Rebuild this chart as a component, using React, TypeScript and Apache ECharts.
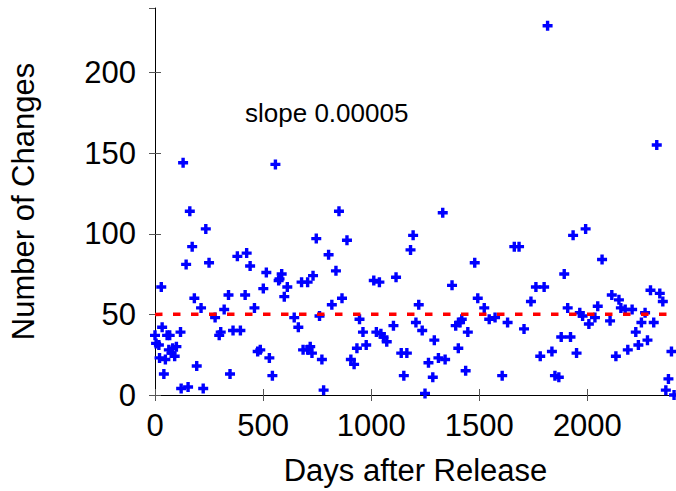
import React, { useEffect, useRef } from "react";
import * as echarts from "echarts";

const daysAfterRelease: number[] = [
  130, 557, 1816, 2321,
  161, 235, 172, 144, 250, 29, 182, 213, 278, 33, 0, 5, 18, 56, 68, 118, 21, 48, 64, 82, 76, 91, 99, 41, 193, 121, 153, 223,
  297, 304, 320, 340, 361, 395, 347, 381, 424, 440, 417, 460, 475, 487, 529, 543, 501, 515, 572, 586, 576, 612, 598, 644, 663,
  678, 706, 731, 746, 685, 718, 706, 726, 772, 780, 761, 818, 803, 837, 851, 888, 865, 946, 962, 934, 977, 906, 921,
  1012, 1038, 1024, 1045, 1057, 1072, 1103, 1115, 1139, 1165, 1151,
  1182, 1194, 1331, 1220, 1207, 1236, 1292, 1265, 1311, 1342, 1285, 1249, 1374, 1391, 1419, 1411, 1447, 1403, 1437, 1479, 1493,
  1523, 1546, 1573, 1631, 1606, 1662, 1684, 1707, 1739, 1762, 1800, 1782, 1836, 1850, 1868, 1879, 1922, 1893, 1909, 1950, 1934,
  1992, 1965, 1978, 2007, 2035, 2048, 2068, 2105, 2113, 2146, 2155, 2175, 2207, 2132, 2187, 2236, 2224, 2250, 2267, 2278, 2307,
  2292, 2335, 2349, 2389, 2375, 2363, 2401,
];

const numberOfChanges: number[] = [
  144, 143, 229, 155,
  114, 103, 92, 81, 82, 67, 60, 54, 48, 42, 37, 32, 31, 37, 37, 39, 23, 22, 28, 29, 26, 24, 30, 13, 18, 4, 5, 4,
  37, 39, 53, 62, 40, 40, 13, 86, 88, 80, 62, 54, 27, 28, 23, 12, 66, 76, 71, 75, 72, 67, 61, 48, 42,
  70, 70, 74, 97, 28, 30, 28, 26, 22, 3, 49, 56, 87, 77, 114, 96, 60, 47, 39, 29, 31, 22, 19,
  71, 70, 39, 38, 36, 33, 43, 73, 26, 26, 12,
  90, 99, 113, 56, 45, 40, 34, 20, 23, 22, 11, 1, 68, 43, 47, 45, 39, 29, 15, 82, 60,
  54, 47, 48, 45, 12, 92, 92, 41, 58, 67, 67, 24, 27, 12, 11, 36, 36, 75, 54, 26, 99,
  103, 51, 49, 44, 48, 55, 84, 46, 62, 59, 54, 53, 53, 24, 28, 31, 39, 45, 51, 34, 45,
  65, 63, 58, 27, 10, 3, 0,
];

const fitDays: number[] = [0, 2410];
const fitValues: number[] = [50, 50.12];

const slopeLabel = "slope 0.00005";
const xTitle = "Days after Release";
const yTitle = "Number of Changes";

const FONT = "'Liberation Sans', Arial, Helvetica, sans-serif";
const PLUS = "path://M3.3,0H6.7V3.3H10V6.7H6.7V10H3.3V6.7H0V3.3H3.3Z";

export default function App() {
  const ref = useRef<HTMLDivElement>(null);
  useEffect(() => {
    if (!ref.current) return;
    const chart = echarts.init(ref.current, null, { renderer: "svg" });
    const points = daysAfterRelease.map((d, i) => [d, numberOfChanges[i]]);
    const fit = fitDays.map((d, i) => [d, fitValues[i]]);
    const tickStyle = { show: true, inside: true, length: 6, lineStyle: { color: "#555", width: 1 } };
    chart.setOption({
      animation: false,
      backgroundColor: "#ffffff",
      grid: { left: 155, right: -1, top: 8, bottom: 96, containLabel: false },
      xAxis: [
        {
          type: "value",
          min: 0,
          max: 2410,
          interval: 500,
          position: "bottom",
          axisLine: { show: true, lineStyle: { color: "#000", width: 1 } },
          axisTick: tickStyle,
          splitLine: { show: false },
          axisLabel: {
            show: true,
            margin: 15,
            fontSize: 31,
            color: "#000",
            fontFamily: FONT,
            showMaxLabel: false,
            formatter: (v: number) => (v % 500 === 0 ? String(v) : ""),
          },
          name: xTitle,
          nameLocation: "middle",
          nameGap: 60,
          nameTextStyle: { fontSize: 31, color: "#000", fontFamily: FONT },
        },
        {
          type: "value",
          min: 0,
          max: 2410,
          interval: 500,
          position: "top",
          axisLine: { show: true, lineStyle: { color: "#000", width: 1 } },
          axisTick: tickStyle,
          splitLine: { show: false },
          axisLabel: { show: false },
        },
      ],
      yAxis: [
        {
          type: "value",
          min: 0,
          max: 240,
          interval: 50,
          position: "left",
          axisLine: { show: true, lineStyle: { color: "#000", width: 1 } },
          axisTick: tickStyle,
          splitLine: { show: false },
          axisLabel: {
            show: true,
            margin: 19,
            fontSize: 31,
            color: "#000",
            fontFamily: FONT,
            showMaxLabel: false,
            formatter: (v: number) => (v % 50 === 0 ? String(v) : ""),
          },
          name: yTitle,
          nameLocation: "middle",
          nameGap: 116,
          nameRotate: 90,
          nameTextStyle: { fontSize: 31, color: "#000", fontFamily: FONT },
        },
        {
          type: "value",
          min: 0,
          max: 240,
          interval: 50,
          position: "right",
          axisLine: { show: false },
          axisTick: tickStyle,
          splitLine: { show: false },
          axisLabel: { show: false },
        },
      ],
      graphic: [
        {
          type: "text",
          left: 245,
          top: 100,
          style: {
            text: slopeLabel,
            fontSize: 26,
            fontFamily: FONT,
            fill: "#000",
          },
        },
      ],
      series: [
        {
          type: "scatter",
          xAxisIndex: 0,
          yAxisIndex: 0,
          data: points,
          symbol: PLUS,
          symbolSize: 10,
          itemStyle: { color: "#0000ff", opacity: 1 },
          z: 2,
        },
        {
          type: "line",
          xAxisIndex: 0,
          yAxisIndex: 0,
          data: fit,
          showSymbol: false,
          symbol: "none",
          lineStyle: { color: "#ff0000", width: 3.5, type: [7.5, 10.5] },
          z: 3,
        },
      ],
    });
    return () => chart.dispose();
  }, []);
  return (
    <div
      ref={ref}
      style={{ position: "fixed", left: 0, top: 0, width: 676, height: 491, background: "#fff" }}
    />
  );
}
